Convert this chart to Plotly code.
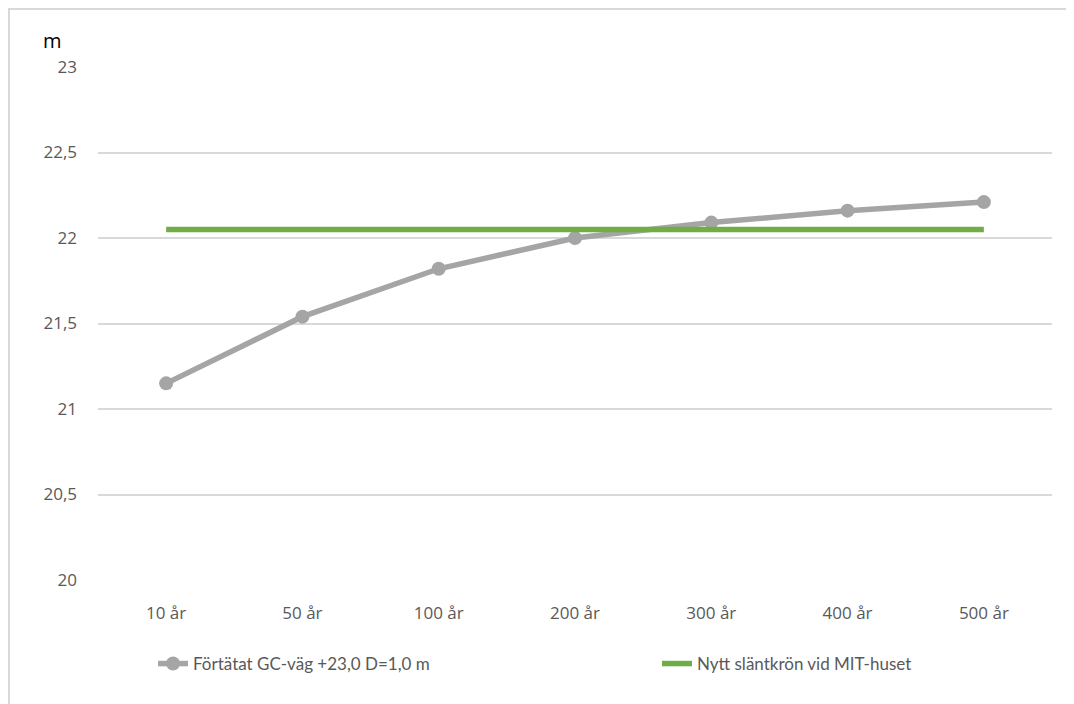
import plotly.graph_objects as go

categories = ["10 år", "50 år", "100 år", "200 år", "300 år", "400 år", "500 år"]
gc_vag = [21.15, 21.54, 21.82, 22.00, 22.09, 22.16, 22.21]
slantkron = [22.05] * 7
name_gc = "Förtätat GC-väg +23,0 D=1,0 m"
name_sl = "Nytt släntkrön vid MIT-huset"
y_ticks = [20, 20.5, 21, 21.5, 22, 22.5, 23]
y_ticklabels = ["20", "20,5", "21", "21,5", "22", "22,5", "23"]

fig = go.Figure()
fig.add_trace(go.Scatter(
    x=categories, y=gc_vag, name=name_gc, mode="lines+markers",
    line=dict(color="#a5a5a5", width=5.5),
    marker=dict(color="#a5a5a5", size=14),
    legend="legend",
))
fig.add_trace(go.Scatter(
    x=categories, y=slantkron, name=name_sl, mode="lines",
    line=dict(color="#70ad47", width=5.5),
    legend="legend2",
))

# page has 8px body margin; figure coordinates are screen minus 8
W, H = 1066, 696
L, R, T, B = 90, 22, 59, 124
pw, ph = W - L - R, H - T - B
leg_y = -(656 - (T + ph)) / ph
leg_font = dict(family="Lato", size=17, color="#595959")
tick_font = dict(family="Open Sans", size=17, color="#595959")

fig.update_layout(
    width=W, height=H,
    margin=dict(l=L, r=R, t=T, b=B),
    plot_bgcolor="white", paper_bgcolor="white",
    separators=", ",
    font=dict(family="Open Sans", size=17, color="#595959"),
    xaxis=dict(range=[-0.5, 6.5], showgrid=False, showline=False, ticks="",
               ticklabelstandoff=21, tickfont=tick_font),
    yaxis=dict(range=[20, 23], tickvals=y_ticks, ticktext=y_ticklabels,
               showgrid=True, gridcolor="#d9d9d9", gridwidth=1.5,
               zeroline=False, showline=False, ticks="", ticklabelstandoff=20,
               tickfont=tick_font),
    legend=dict(orientation="h", x=(145 - L) / pw, xanchor="left",
                y=leg_y, yanchor="middle", font=leg_font, bgcolor="rgba(0,0,0,0)"),
    legend2=dict(orientation="h", x=(649 - L) / pw, xanchor="left",
                 y=leg_y, yanchor="middle", font=leg_font, bgcolor="rgba(0,0,0,0)"),
    showlegend=True,
    annotations=[dict(text="m", xref="paper", yref="paper",
                      x=(44 - L) / pw, y=1 + (T - 32) / ph,
                      xanchor="center", yanchor="middle", showarrow=False,
                      font=dict(family="Open Sans", size=20, color="#000000"))],
    shapes=[dict(type="rect", xref="paper", yref="paper",
                 x0=(1 - L) / pw, x1=(W + 20 - L) / pw,
                 y0=-(H + 20 - (T + ph)) / ph, y1=1 + (T - 1) / ph,
                 line=dict(color="#d9d9d9", width=2), fillcolor="rgba(0,0,0,0)",
                 layer="below")],
)

fig.write_html("out.html")
